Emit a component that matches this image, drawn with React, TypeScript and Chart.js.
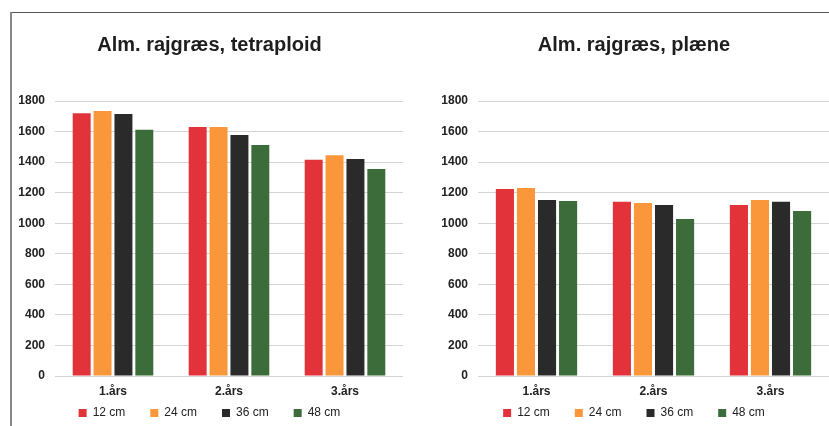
import React, { useEffect, useRef } from "react";
import { Chart, registerables } from "chart.js";

Chart.register(...registerables);

const categories = ["1.års", "2.års", "3.års"];
const seriesLabels = ["12 cm", "24 cm", "36 cm", "48 cm"];
const seriesColors = ["#e2333a", "#f9973a", "#2a2a2a", "#3b6c39"];

const tetraploid12 = [1720, 1630, 1415];
const tetraploid24 = [1735, 1630, 1445];
const tetraploid36 = [1715, 1578, 1420];
const tetraploid48 = [1612, 1512, 1355];

const plaene12 = [1225, 1140, 1120];
const plaene24 = [1230, 1133, 1152];
const plaene36 = [1153, 1120, 1140];
const plaene48 = [1145, 1028, 1080];

const yTicksMax = 1800;
const yTicksStep = 200;

const titleLeft = "Alm. rajgræs, tetraploid";
const titleRight = "Alm. rajgræs, plæne";

const FONT = "'Liberation Sans', Arial, Helvetica, sans-serif";

const LEGEND_PAD = 25;
const LEGEND_ROW_CENTER = 413;

const legendShift = {
  id: "legendShift",
  afterLayout(chart: any) {
    const lg = chart.legend;
    if (!lg) return;
    const targetTop = LEGEND_ROW_CENTER - 6 - LEGEND_PAD;
    const dy = targetTop - lg.top;
    lg.top += dy;
    lg.bottom += dy;
  },
};

function buildConfig(title: string, series: number[][]): any {
  return {
    type: "bar",
    data: {
      labels: categories,
      datasets: series.map((vals, i) => ({
        label: seriesLabels[i],
        data: vals,
        backgroundColor: seriesColors[i],
        borderWidth: 0,
        categoryPercentage: 0.72,
        barPercentage: 0.86,
      })),
    },
    plugins: [legendShift],
    options: {
      responsive: false,
      animation: false,
      layout: { padding: { left: 6, right: 7, top: 0, bottom: 0.5 } },
      plugins: {
        tooltip: { enabled: false },
        title: {
          display: true,
          text: title,
          color: "#1e1e1e",
          font: { family: FONT, size: 20, weight: "bold" },
          padding: { top: 33, bottom: 44 },
        },
        legend: {
          display: true,
          position: "bottom",
          labels: {
            boxWidth: 8,
            boxHeight: 8,
            padding: LEGEND_PAD,
            color: "#222",
            font: { family: FONT, size: 12 },
          },
        },
      },
      scales: {
        x: {
          grid: { display: false, drawTicks: false },
          border: { display: false },
          ticks: {
            padding: 8,
            color: "#222",
            font: { family: FONT, size: 12, weight: "bold" },
          },
        },
        y: {
          min: 0,
          max: yTicksMax,
          border: { display: false },
          grid: { color: "#d4d4d4", drawTicks: false, lineWidth: 1 },
          ticks: {
            stepSize: yTicksStep,
            padding: 10,
            color: "#222",
            font: { family: FONT, size: 12, weight: "bold" },
            callback: (v: any) => String(v),
          },
          afterFit: (scale: any) => {
            scale.width = 39;
          },
        },
      },
    },
  };
}

export default function App() {
  const leftRef = useRef<HTMLCanvasElement | null>(null);
  const rightRef = useRef<HTMLCanvasElement | null>(null);

  useEffect(() => {
    const c1 = new Chart(
      leftRef.current as HTMLCanvasElement,
      buildConfig(titleLeft, [tetraploid12, tetraploid24, tetraploid36, tetraploid48])
    );
    const c2 = new Chart(
      rightRef.current as HTMLCanvasElement,
      buildConfig(titleRight, [plaene12, plaene24, plaene36, plaene48])
    );
    return () => {
      c1.destroy();
      c2.destroy();
    };
  }, []);

  const H = 454;

  return (
    <div
      style={{
        position: "fixed",
        left: 0,
        top: 0,
        width: 829,
        height: 426,
        overflow: "hidden",
        background: "#ffffff",
      }}
    >
      <canvas
        ref={leftRef}
        width={400}
        height={H}
        style={{ position: "absolute", left: 10, top: 0, width: 400, height: H }}
      />
      <canvas
        ref={rightRef}
        width={403}
        height={H}
        style={{ position: "absolute", left: 433, top: 0, width: 403, height: H }}
      />
      <div style={{ position: "absolute", left: 10, top: 12, width: 819, height: 1, background: "#555" }} />
      <div style={{ position: "absolute", left: 10, top: 12, width: 1.5, height: 414, background: "#888" }} />
    </div>
  );
}
